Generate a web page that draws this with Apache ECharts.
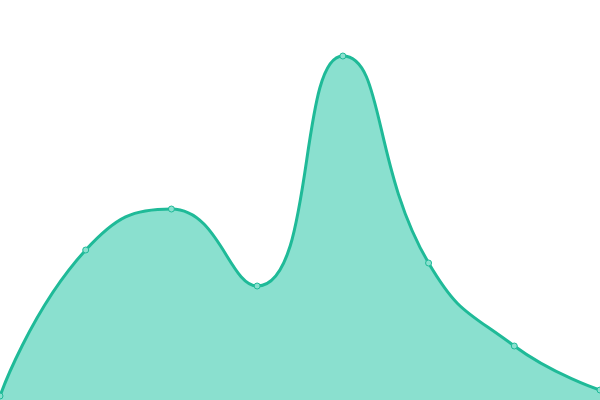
<!DOCTYPE html>
<html>
<head>
<meta charset="utf-8">
<script src="https://cdn.jsdelivr.net/npm/echarts@6/dist/echarts.min.js"></script>
<style>
  html, body { margin: 0; padding: 0; background: #fff; }
  #chart { width: 600px; height: 400px; }
</style>
</head>
<body>
<div id="chart"></div>
<script>
// values (y axis 0..400, no axes shown)
const categories = ['1', '2', '3', '4', '5', '6', '7', '8'];
const values = [4, 150, 191, 114, 344, 137, 54, 10];

const chart = echarts.init(document.getElementById('chart'));
chart.setOption({
    animation: false,
    grid: { left: 0, right: 0, top: 0, bottom: 0 },
    xAxis: {
        type: 'category',
        data: categories,
        boundaryGap: false,
        show: false
    },
    yAxis: {
        type: 'value',
        min: 0,
        max: 400,
        show: false
    },
    series: [{
        type: 'line',
        data: values,
        smooth: true,
        symbol: 'circle',
        symbolSize: 6,
        lineStyle: { color: '#1fba98', width: 3 },
        itemStyle: { color: '#8ae0cf', borderColor: '#1fba98', borderWidth: 1 },
        areaStyle: { color: '#8ae0cf', opacity: 1 }
    }]
});
</script>
</body>
</html>
